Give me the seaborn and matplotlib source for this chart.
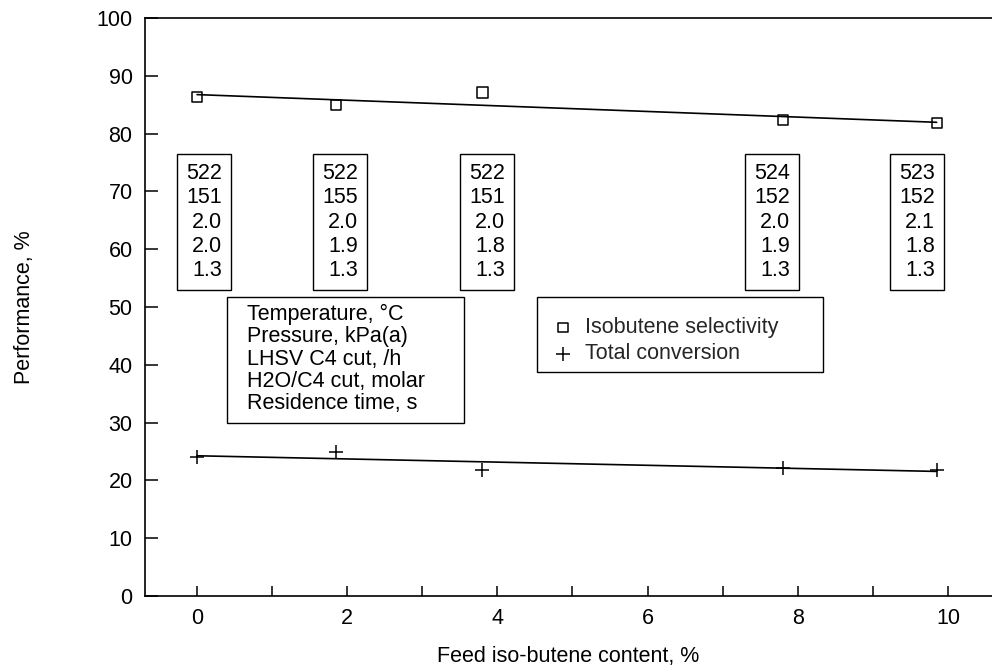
import matplotlib
matplotlib.use("Agg")
import matplotlib.pyplot as plt
from matplotlib.patches import Rectangle
from matplotlib.ticker import MultipleLocator
import seaborn as sns
import pandas as pd

# ---- data ----
feed_isobutene = [0.0, 1.85, 3.8, 7.8, 9.85]
selectivity = [86.3, 84.9, 87.1, 82.3, 81.8]
conversion = [24.1, 25.0, 21.8, 22.2, 21.8]

temperature_c = [522, 522, 522, 524, 523]
pressure_kpa = [151, 155, 151, 152, 152]
lhsv = [2.0, 2.0, 2.0, 2.0, 2.1]
h2o_c4 = [2.0, 1.9, 1.8, 1.9, 1.8]
residence_s = [1.3, 1.3, 1.3, 1.3, 1.3]

condition_names = ["Temperature, \u00b0C", "Pressure, kPa(a)", "LHSV C4 cut, /h",
                   "H2O/C4 cut, molar", "Residence time, s"]
series_labels = ["Isobutene selectivity", "Total conversion"]

df = pd.DataFrame({"feed": feed_isobutene, "sel": selectivity, "conv": conversion})

# ---- style ----
sns.set_theme(style="white")
plt.rcParams["font.family"] = ["Liberation Sans", "DejaVu Sans"]
FS = 15.5

fig = plt.figure(figsize=(9.92, 6.67), dpi=100)
ax = fig.add_axes([145 / 992, 1 - 596 / 667, (992 - 145) / 992, (596 - 18) / 667])

# fitted lines
sns.regplot(data=df, x="feed", y="sel", scatter=False, ci=None, truncate=True,
            line_kws=dict(color="black", lw=1.2), ax=ax)
sns.regplot(data=df, x="feed", y="conv", scatter=False, ci=None, truncate=True,
            line_kws=dict(color="black", lw=1.2), ax=ax)

# points
sns.scatterplot(data=df, x="feed", y="sel", marker="s", s=55, facecolor="none",
                edgecolor="black", linewidth=1.1, label=series_labels[0], ax=ax, zorder=3)
sns.scatterplot(data=df, x="feed", y="conv", marker="+", s=110, color="black",
                linewidth=1.1, label=series_labels[1], ax=ax, zorder=3)

ax.set_xlim(-0.693, 10.587)
ax.set_ylim(0, 100)
ax.xaxis.set_major_locator(MultipleLocator(2))
ax.xaxis.set_minor_locator(MultipleLocator(1))
ax.yaxis.set_major_locator(MultipleLocator(10))
ax.tick_params(axis="x", which="both", direction="in", length=7, width=1.1,
               colors="black", labelsize=FS, pad=9, bottom=True)
ax.tick_params(axis="y", which="major", direction="in", length=9, width=1.1,
               colors="black", labelsize=FS, pad=9, left=True)
for side in ["left", "bottom", "top"]:
    ax.spines[side].set_color("black")
    ax.spines[side].set_linewidth(1.2)
ax.spines["right"].set_visible(False)

ax.set_xlabel("Feed iso-butene content, %", fontsize=FS, labelpad=12, color="black")
ax.set_ylabel("Performance, %", fontsize=FS, labelpad=44, color="black")

# condition boxes above each run
box_dx = [0.09, 0.06, 0.06, -0.14, -0.26]
for i, xv in enumerate(feed_isobutene):
    txt = (f"{temperature_c[i]}\n{pressure_kpa[i]}\n{lhsv[i]:.1f}\n"
           f"{h2o_c4[i]:.1f}\n{residence_s[i]:.1f}")
    ax.text(xv + box_dx[i], 64.7, txt, ha="center", va="center", multialignment="right",
            fontsize=FS, linespacing=1.2, color="black",
            bbox=dict(boxstyle="square,pad=0.42", fc="white", ec="black", lw=1.0))

# condition name box
ax.add_patch(Rectangle((0.40, 29.9), 3.16, 21.8, fill=False, ec="black", lw=1.0, zorder=4))
ax.text(0.667, 41.0, "\n".join(condition_names), ha="left", va="center",
        fontsize=FS, linespacing=1.09, color="black")

# legend
ax.add_patch(Rectangle((4.53, 38.7), 3.81, 13.1, fill=False, ec="black", lw=1.0, zorder=4))
h, l = ax.get_legend_handles_labels()
ax.legend(h, l, loc="upper left", bbox_to_anchor=(0.4808, 0.4827), frameon=False,
          fontsize=FS, borderpad=0, borderaxespad=0, handlelength=1.0,
          handletextpad=0.52, labelspacing=0.25, markerscale=0.9)

fig.savefig("out.png", dpi=100)
